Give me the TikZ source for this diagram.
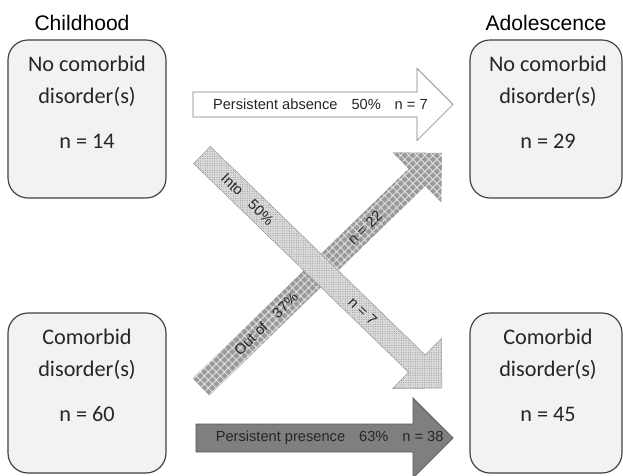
\documentclass[tikz,border=0pt]{standalone}
\usepackage{fontspec}
\setmainfont{Liberation Sans}
\newfontfamily\boxfont{Carlito}
\usepackage{xcolor}
\usepackage{tikz}
\usetikzlibrary{calc,patterns.meta}

\definecolor{boxfill}{HTML}{F2F2F2}
\definecolor{boxline}{HTML}{404040}
\definecolor{txtgray}{HTML}{262626}
\definecolor{darkfill}{HTML}{7F7F7F}
\definecolor{hatchfill}{HTML}{9A9A9A}
\definecolor{dotfill}{HTML}{DADADA}

% block arrow: style, tail, tip, shaft half width, head half width
\newcommand{\blockarrow}[5]{%
  \coordinate (#2-neck) at ($(#3)!#5!(#2)$);
  \path[#1] ($(#2)!#4!90:(#3)$) -- ($(#2-neck)!#4!90:(#3)$) -- ($(#2-neck)!#5!90:(#3)$)
    -- (#3) -- ($(#2-neck)!#5!-90:(#3)$) -- ($(#2-neck)!#4!-90:(#3)$) -- ($(#2)!#4!-90:(#3)$) -- cycle;
}

\tikzset{
  statebox/.style={draw=boxline, line width=1pt, fill=boxfill, rounded corners=6mm, minimum height=47.4mm},
  boxtext/.style={font=\boxfont\fontsize{19}{28}\selectfont, text=txtgray, align=center, inner sep=0pt, anchor=north},
  headtext/.style={font=\fontsize{18}{20}\selectfont, text=black},
  arrowtext/.style={font=\fontsize{12.5}{14}\selectfont, text=txtgray, inner sep=0pt},
  absarrow/.style={draw=gray, line width=0.6pt, fill=white},
  presarrow/.style={draw=gray!70!black, line width=0.6pt, fill=darkfill},
  outarrow/.style={fill=hatchfill, postaction={pattern={Hatch[angle=45, distance=1.7mm, line width=0.25mm]}, pattern color=white!80!gray}},
  intoarrow/.style={draw=gray!80, line width=0.4pt, fill=dotfill, postaction={pattern={Dots[distance=0.7mm, radius=0.14mm]}, pattern color=gray}},
}

\begin{document}
\begin{tikzpicture}[x=0.3mm, y=-0.3mm]
    \useasboundingbox (0,0) rectangle (623,476);
    % Headings
    \node[headtext] (hchild) at (82,23) {Childhood};
    \node[headtext] (hadol) at (546,23) {Adolescence};
    % Childhood: no comorbid disorder(s)
    \node[statebox, minimum width=47.4mm] (cno) at (87,119) {};
    \node[boxtext] (cnotext) at ($(cno.north)+(0,16)$) {No comorbid\\disorder(s)\\[10pt]n = 14};
    % Childhood: comorbid disorder(s)
    \node[statebox, minimum width=47.4mm, minimum height=48mm] (cyes) at (87,393) {};
    \node[boxtext] (cyestext) at ($(cyes.north)+(0,16)$) {Comorbid\\disorder(s)\\[10pt]n = 60};
    % Adolescence: no comorbid disorder(s)
    \node[statebox, minimum width=45.6mm] (ano) at (546,119) {};
    \node[boxtext] (anotext) at ($(ano.north)+(2,16)$) {No comorbid\\disorder(s)\\[10pt]n = 29};
    % Adolescence: comorbid disorder(s)
    \node[statebox, minimum width=45.6mm, minimum height=48mm] (ayes) at (546,393) {};
    \node[boxtext] (ayestext) at ($(ayes.north)+(2,16)$) {Comorbid\\disorder(s)\\[10pt]n = 45};
    % Persistent absence
    \coordinate (abs-tail) at (193,104.5);
    \coordinate (abs-tip) at (453,104.5);
    \blockarrow{absarrow}{abs-tail}{abs-tip}{3.75mm}{10.8mm}
    \path (abs-tail) -- (abs-tip) node[arrowtext, pos=0.49] (abslbl)
        {Persistent absence\hspace{0.95em}50\%\hspace{0.95em}n = 7};
    % Persistent presence
    \coordinate (pres-tail) at (196,438);
    \coordinate (pres-tip) at (453,438);
    \blockarrow{presarrow}{pres-tail}{pres-tip}{4.2mm}{12mm}
    \path (pres-tail) -- (pres-tip) node[arrowtext, text=black!85, pos=0.52] (preslbl)
        {Persistent presence\hspace{0.95em}63\%\hspace{0.95em}n = 38};
    % Out of comorbidity
    \coordinate (out-tail) at (201,387);
    \coordinate (out-tip) at (442,153);
    \blockarrow{outarrow}{out-tail}{out-tip}{3.6mm}{10.5mm}
    \path (out-tail) -- (out-tip)
        node[arrowtext, sloped, pos=0.27] (outlbl) {Out of\hspace{0.9em}37\%}
        node[arrowtext, sloped, pos=0.68] (outn) {n = 22};
    % Into comorbidity
    \coordinate (into-tail) at (202,155);
    \coordinate (into-tip) at (442,388);
    \blockarrow{intoarrow}{into-tail}{into-tip}{3.6mm}{10.5mm}
    \path (into-tail) -- (into-tip)
        node[arrowtext, sloped, pos=0.19] (intolbl) {Into\hspace{0.9em}50\%}
        node[arrowtext, sloped, pos=0.67] (inton) {n = 7};
\end{tikzpicture}
\end{document}
